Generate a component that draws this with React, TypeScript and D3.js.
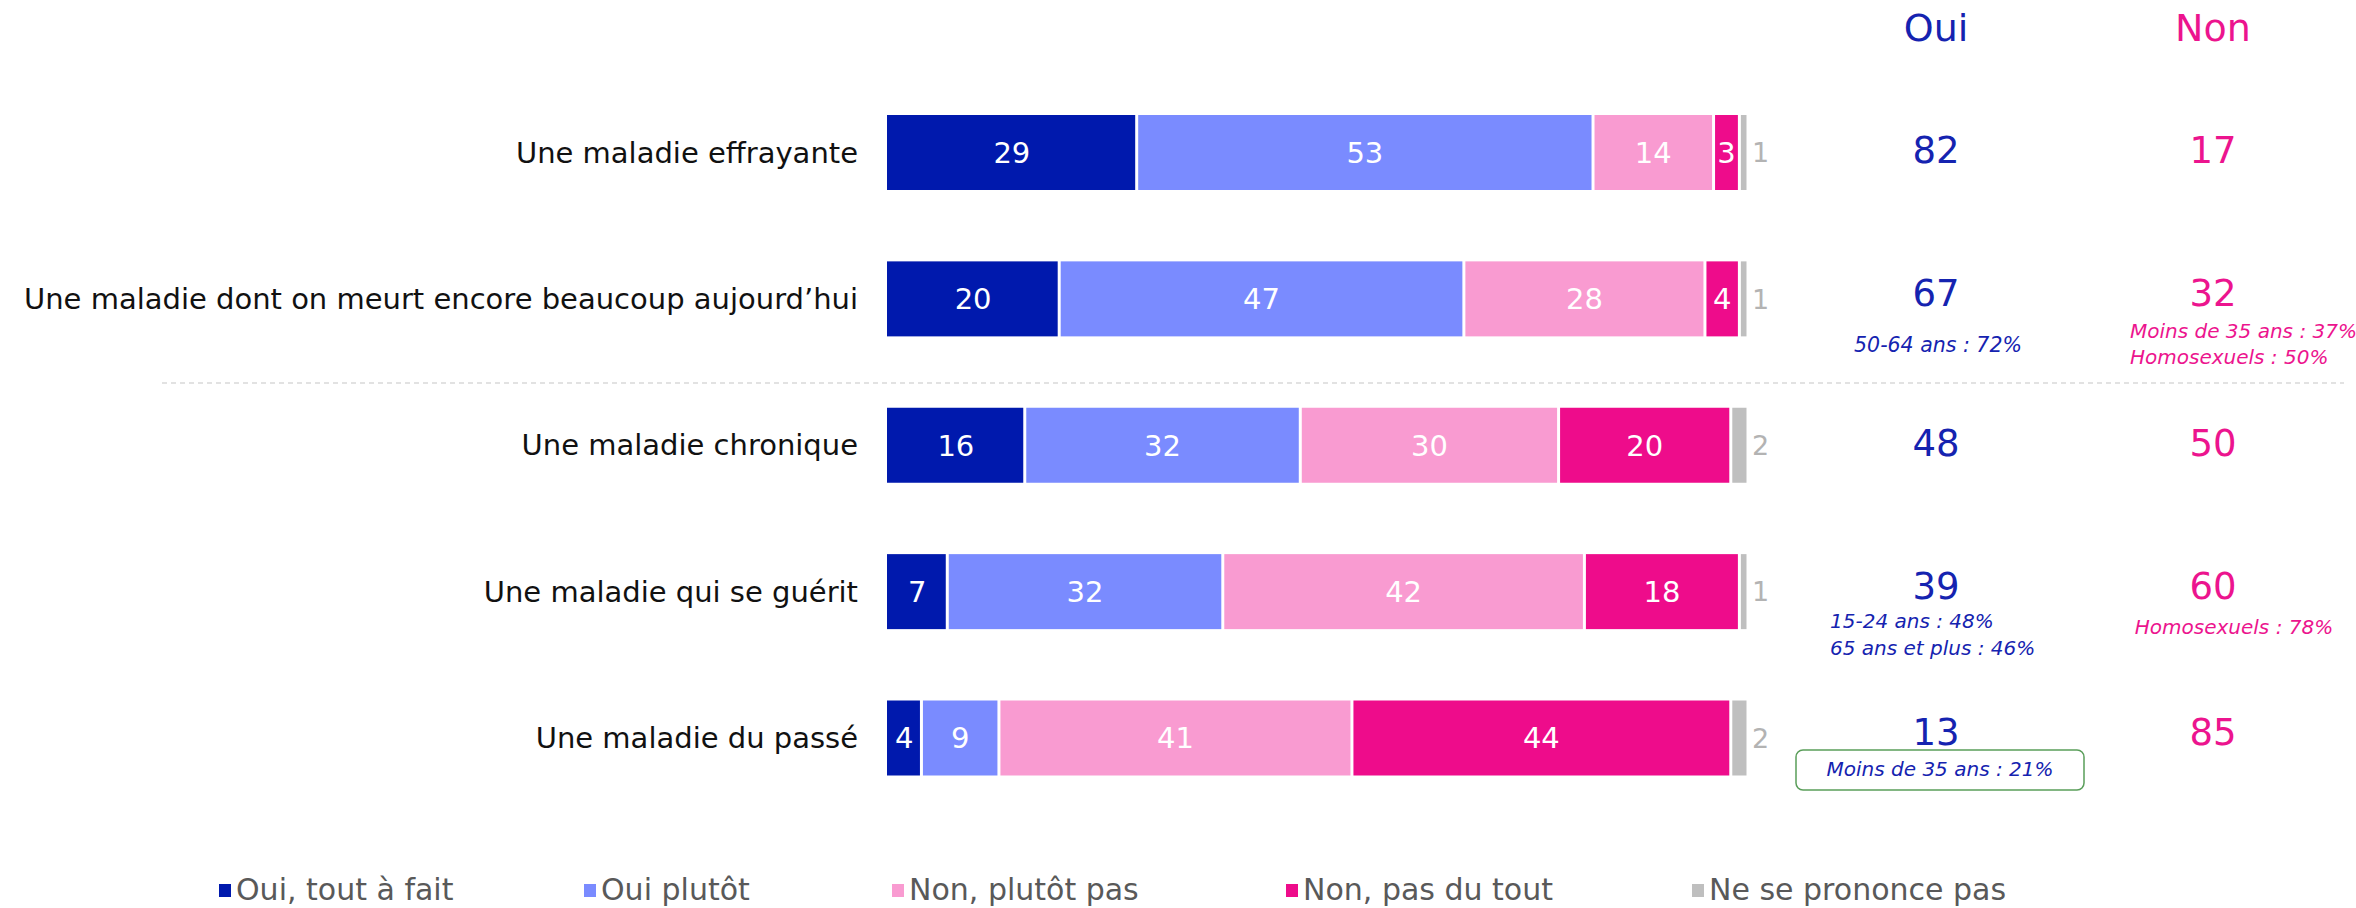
import React from "react";
import * as d3 from "d3";

const categories = [
  "Une maladie effrayante",
  "Une maladie dont on meurt encore beaucoup aujourd’hui",
  "Une maladie chronique",
  "Une maladie qui se guérit ",
  "Une maladie du passé",
];
const seriesNames = ["Oui, tout à fait", "Oui plutôt", "Non, plutôt pas", "Non, pas du tout", "Ne se prononce pas"];
const ouiToutAFait = [29, 20, 16, 7, 4];
const ouiPlutot = [53, 47, 32, 32, 9];
const nonPlutotPas = [14, 28, 30, 42, 41];
const nonPasDuTout = [3, 4, 20, 18, 44];
const nsp = [1, 1, 2, 1, 2];
const totalOui = [82, 67, 48, 39, 13];
const totalNon = [17, 32, 50, 60, 85];
const notesOui = [[], ["50-64 ans : 72%"], [], ["15-24 ans : 48%", "65 ans et plus : 46%"], ["Moins de 35 ans : 21%"]];
const notesNon = [[], ["Moins de 35 ans : 37%", "Homosexuels : 50%"], [], ["Homosexuels : 78%"], []];

const colors = ["#0019ad", "#7a8bff", "#f99bd1", "#ee0c8b", "#bfbfbf"];
const OUI_COLOR = "#1523b0";
const NON_COLOR = "#ec148e";
const FONT = "'DejaVu Sans', sans-serif";

const W = 2356;
const H = 908;
const BAR_H = 75;

export default function App() {
  const seriesValues = [ouiToutAFait, ouiPlutot, nonPlutotPas, nonPasDuTout, nsp];
  const rows = categories.map((c, i) => {
    const obj: any = { cat: c };
    seriesNames.forEach((s, k) => (obj[s] = seriesValues[k][i]));
    return obj;
  });
  const stack = d3.stack<any>().keys(seriesNames)(rows);

  const x = d3.scaleLinear().domain([0, 100]).range([887, 1748]);
  const y = d3.scalePoint<string>().domain(categories).range([152.5, 738]);

  const ouiX = 1936;
  const nonX = 2213;
  const legendX = [219, 584, 892, 1286, 1692];

  return (
    <svg width={W} height={H} style={{ position: "absolute", left: 0, top: 0, background: "#fff" }} fontFamily={FONT}>
      <rect width={W} height={H} fill="#fff" />
      {/* separator */}
      <line x1={162} x2={2344} y1={383} y2={383} stroke="#d9d9d9" strokeWidth={1.5} strokeDasharray="5,4" />

      {/* headers */}
      <text x={ouiX} y={28} dy="0.35em" textAnchor="middle" fill={OUI_COLOR} fontSize={38}>Oui</text>
      <text x={nonX} y={28} dy="0.35em" textAnchor="middle" fill={NON_COLOR} fontSize={38}>Non</text>

      {/* category labels */}
      {categories.map((c) => (
        <text key={c} x={858} y={y(c)!} dy="0.35em" textAnchor="end" fill="#111" fontSize={29}>{c}</text>
      ))}

      {/* bars */}
      {stack.map((s, k) => (
        <g key={s.key} fill={colors[k]}>
          {s.map((d, i) => {
            const cy = y(categories[i])!;
            const x0 = x(d[0]);
            const x1 = x(d[1]);
            return (
              <g key={i}>
                <rect x={x0 + (k === 0 ? 0 : 1.5)} y={cy - BAR_H / 2} width={Math.max(0, x1 - x0 - (k === 0 ? 1.5 : 3))} height={BAR_H} />
                {k < 4 && (
                  <text x={(x0 + x1) / 2} y={cy} dy="0.36em" textAnchor="middle" fill="#fff" fontSize={29}>
                    {d[1] - d[0]}
                  </text>
                )}
                {k === 4 && (
                  <text x={x1 + 4} y={cy} dy="0.36em" textAnchor="start" fill="#b3b3b3" fontSize={27}>
                    {d[1] - d[0]}
                  </text>
                )}
              </g>
            );
          })}
        </g>
      ))}

      {/* totals */}
      {categories.map((c, i) => {
        const cy = y(c)! - (notesOui[i].length || notesNon[i].length ? 6 : 2);
        return (
          <g key={c}>
            <text x={ouiX} y={cy} dy="0.35em" textAnchor="middle" fill={OUI_COLOR} fontSize={37}>{totalOui[i]}</text>
            <text x={nonX} y={cy} dy="0.35em" textAnchor="middle" fill={NON_COLOR} fontSize={37}>{totalNon[i]}</text>
          </g>
        );
      })}

      {/* notes */}
      <text x={1938} y={345} dy="0.35em" textAnchor="middle" fill={OUI_COLOR} fontSize={20.5} fontStyle="italic">{notesOui[1][0]}</text>
      <text x={2130} y={331} dy="0.35em" textAnchor="start" fill={NON_COLOR} fontSize={20} fontStyle="italic">{notesNon[1][0]}</text>
      <text x={2130} y={357} dy="0.35em" textAnchor="start" fill={NON_COLOR} fontSize={20} fontStyle="italic">{notesNon[1][1]}</text>
      <text x={1830} y={621} dy="0.35em" textAnchor="start" fill={OUI_COLOR} fontSize={20} fontStyle="italic">{notesOui[3][0]}</text>
      <text x={1830} y={648} dy="0.35em" textAnchor="start" fill={OUI_COLOR} fontSize={20} fontStyle="italic">{notesOui[3][1]}</text>
      <text x={2234} y={627} dy="0.35em" textAnchor="middle" fill={NON_COLOR} fontSize={20} fontStyle="italic">{notesNon[3][0]}</text>
      <rect x={1796} y={750} width={288} height={40} rx={7} fill="none" stroke="#5a9e5a" strokeWidth={1.5} />
      <text x={1940} y={769} dy="0.35em" textAnchor="middle" fill={OUI_COLOR} fontSize={20} fontStyle="italic">{notesOui[4][0]}</text>

      {/* legend */}
      {seriesNames.map((s, k) => (
        <g key={s}>
          <rect x={legendX[k]} y={884} width={12} height={13} fill={colors[k]} />
          <text x={legendX[k] + 17} y={889} dy="0.35em" fill="#595959" fontSize={30}>{s}</text>
        </g>
      ))}
    </svg>
  );
}
